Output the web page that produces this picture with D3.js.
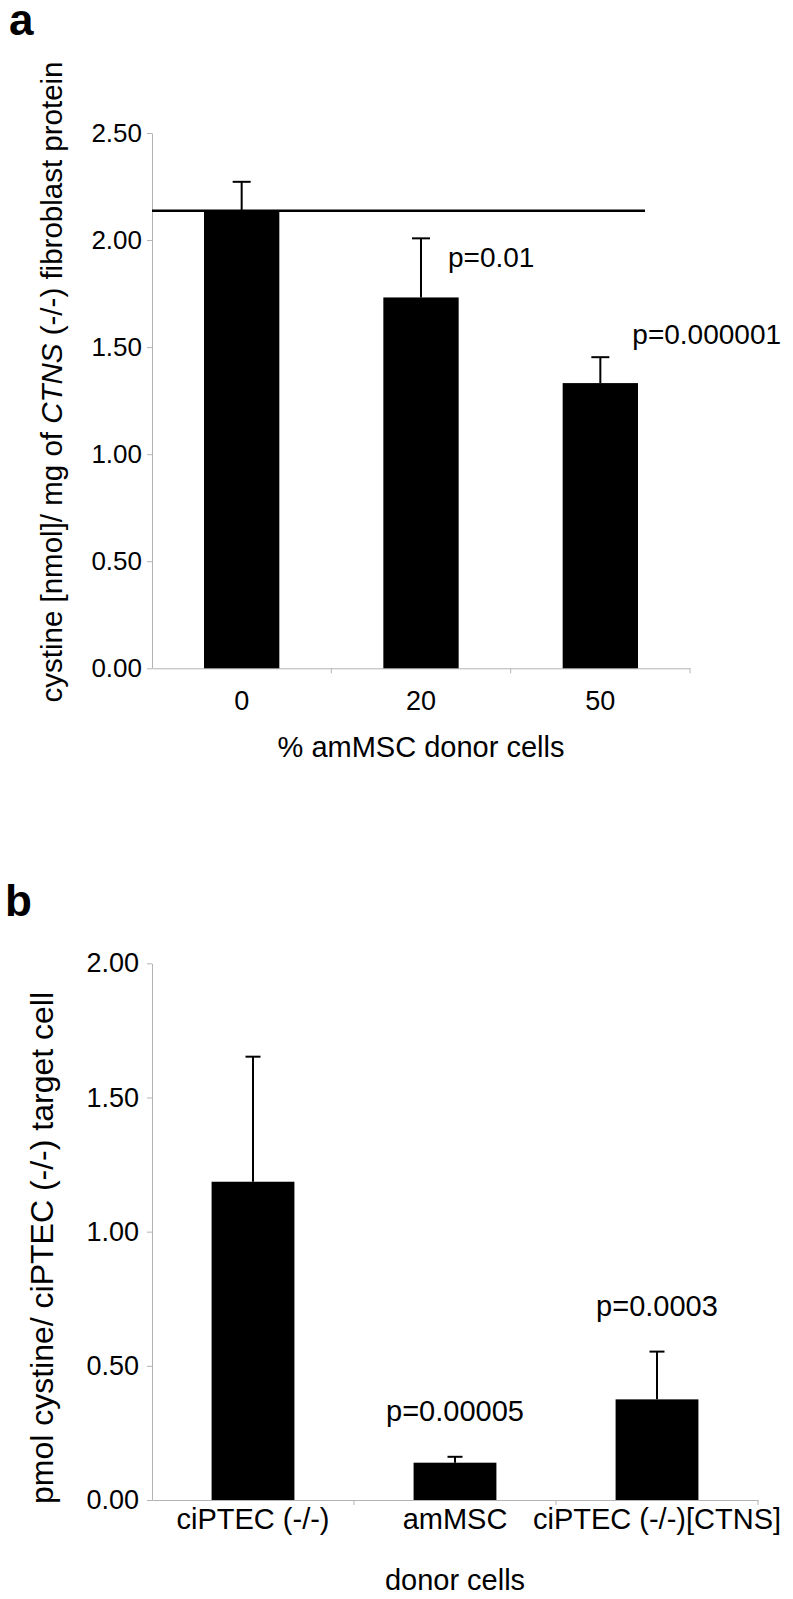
<!DOCTYPE html>
<html>
<head>
<meta charset="utf-8">
<script src="https://cdn.jsdelivr.net/npm/d3@7"></script>
<style>
  body { margin: 0; background: #fff; }
  svg text { font-family: "Liberation Sans", Arial, sans-serif; fill: #000; }
</style>
</head>
<body>
<svg id="vis"></svg>
<script>
// panel a data
const catsA = ["0", "20", "50"]
const meanA = [2.137, 1.732, 1.332]
const errA = [0.135, 0.276, 0.121]
const pA = [null, "p=0.01", "p=0.000001"]
const refA = 2.137
const ticksA = [0, 0.5, 1.0, 1.5, 2.0, 2.5]

// panel b data
const catsB = ["ciPTEC (-/-)", "amMSC", "ciPTEC (-/-)[CTNS]"]
const meanB = [1.186, 0.139, 0.375]
const errB = [0.466, 0.022, 0.178]
const pB = [null, "p=0.00005", "p=0.0003"]
const ticksB = [0, 0.5, 1.0, 1.5, 2.0]

const axisGrey = "#b4b4b4"
const fmt = d3.format(".2f")

const svg = d3.select("#vis").attr("width", 793).attr("height", 1599)

// draws one bar panel, returns scales so annotations can use them
function panel(opt) {
  const g = svg.append("g")
  const x = d3.scaleBand().domain(opt.cats).range([152, opt.right])
    .paddingInner(opt.pad).paddingOuter(opt.pad / 2)
  const y = d3.scaleLinear().domain([0, opt.ymax]).range([opt.bottom, opt.top])

  // y axis
  const ya = g.append("g").attr("transform", "translate(152,0)")
    .call(d3.axisLeft(y).tickValues(opt.ticks).tickFormat(fmt)
      .tickSize(5).tickSizeOuter(0).tickPadding(opt.yPad))
  ya.selectAll("path, line").attr("stroke", axisGrey)
  ya.selectAll("text").style("font-size", opt.tickFont + "px")

  // x axis, labels under band centres
  const xa = g.append("g").attr("transform", `translate(0,${opt.bottom})`)
    .call(d3.axisBottom(x).tickSize(0).tickSizeOuter(0).tickPadding(opt.xPad))
  xa.select(".domain").attr("stroke", axisGrey)
  xa.selectAll("text").style("font-size", opt.catFont + "px")

  // tick marks on band boundaries
  g.selectAll(".bt").data(d3.range(1, opt.cats.length + 1)).join("line")
    .attr("x1", i => x.range()[0] + i * x.step())
    .attr("x2", i => x.range()[0] + i * x.step())
    .attr("y1", opt.bottom).attr("y2", opt.bottom + 5)
    .attr("stroke", axisGrey)

  // bars
  g.selectAll(".bar").data(opt.cats).join("rect")
    .attr("x", d => x(d)).attr("width", x.bandwidth())
    .attr("y", (d, i) => y(opt.mean[i]))
    .attr("height", (d, i) => y(0) - y(opt.mean[i]))
    .attr("fill", "#000")

  // error bars (upper only)
  const cx = d => x(d) + x.bandwidth() / 2
  g.selectAll(".eb").data(opt.cats).join("line")
    .attr("x1", cx).attr("x2", cx)
    .attr("y1", (d, i) => y(opt.mean[i]))
    .attr("y2", (d, i) => y(opt.mean[i] + opt.err[i]))
    .attr("stroke", "#000").attr("stroke-width", 2)
  g.selectAll(".cap").data(opt.cats).join("line")
    .attr("x1", d => cx(d) - opt.cap / 2).attr("x2", d => cx(d) + opt.cap / 2)
    .attr("y1", (d, i) => y(opt.mean[i] + opt.err[i]))
    .attr("y2", (d, i) => y(opt.mean[i] + opt.err[i]))
    .attr("stroke", "#000").attr("stroke-width", 2)

  // axis title
  g.append("text").attr("x", (152 + opt.right) / 2).attr("y", opt.titleY)
    .attr("text-anchor", "middle").style("font-size", opt.titleFont + "px")
    .text(opt.title)

  // panel letter
  g.append("text").attr("x", opt.letterX).attr("y", opt.letterY)
    .style("font-size", "44px").style("font-weight", "bold").text(opt.letter)

  return {g, x, y, cx}
}

// ---- panel a ----
const a = panel({
  cats: catsA, mean: meanA, err: errA, ticks: ticksA, ymax: 2.5,
  right: 690, pad: 0.58, top: 133, bottom: 668.3,
  yPad: 5, xPad: 23, tickFont: 26, catFont: 27, cap: 18,
  title: "% amMSC donor cells", titleY: 757, titleFont: 29,
  letter: "a", letterX: 9, letterY: 35
})

// control reference line
a.g.append("line")
  .attr("x1", 152).attr("x2", a.x("50") + a.x.bandwidth() + 7)
  .attr("y1", a.y(refA)).attr("y2", a.y(refA))
  .attr("stroke", "#000").attr("stroke-width", 2.7)

// p values, placed by hand beside the bars as in the original
const pOffA = [null, [27, 29], [32, -13]]
catsA.forEach((c, i) => {
  if (!pA[i]) return
  a.g.append("text")
    .attr("x", a.cx(c) + pOffA[i][0])
    .attr("y", a.y(meanA[i] + errA[i]) + pOffA[i][1])
    .style("font-size", "28px").text(pA[i])
})

// y label with italic gene name
const ylA = a.g.append("text")
  .attr("transform", "translate(62,382) rotate(-90)")
  .attr("text-anchor", "middle").style("font-size", "29.5px")
ylA.append("tspan").text("cystine [nmol]/ mg of ")
ylA.append("tspan").style("font-style", "italic").text("CTNS")
ylA.append("tspan").text(" (-/-) fibroblast protein")

// ---- panel b ----
const b = panel({
  cats: catsB, mean: meanB, err: errB, ticks: ticksB, ymax: 2.0,
  right: 758, pad: 0.59, top: 963.3, bottom: 1500,
  yPad: 8, xPad: 8, tickFont: 27, catFont: 29, cap: 15,
  title: "donor cells", titleY: 1590, titleFont: 29,
  letter: "b", letterX: 5, letterY: 916
})

catsB.forEach((c, i) => {
  if (!pB[i]) return
  b.g.append("text")
    .attr("x", b.cx(c)).attr("y", b.y(meanB[i] + errB[i]) - 36)
    .attr("text-anchor", "middle")
    .style("font-size", "29px").text(pB[i])
})

b.g.append("text")
  .attr("transform", "translate(53,1248) rotate(-90)")
  .attr("text-anchor", "middle").style("font-size", "32px")
  .text("pmol cystine/ ciPTEC (-/-) target cell")
</script>
</body>
</html>
